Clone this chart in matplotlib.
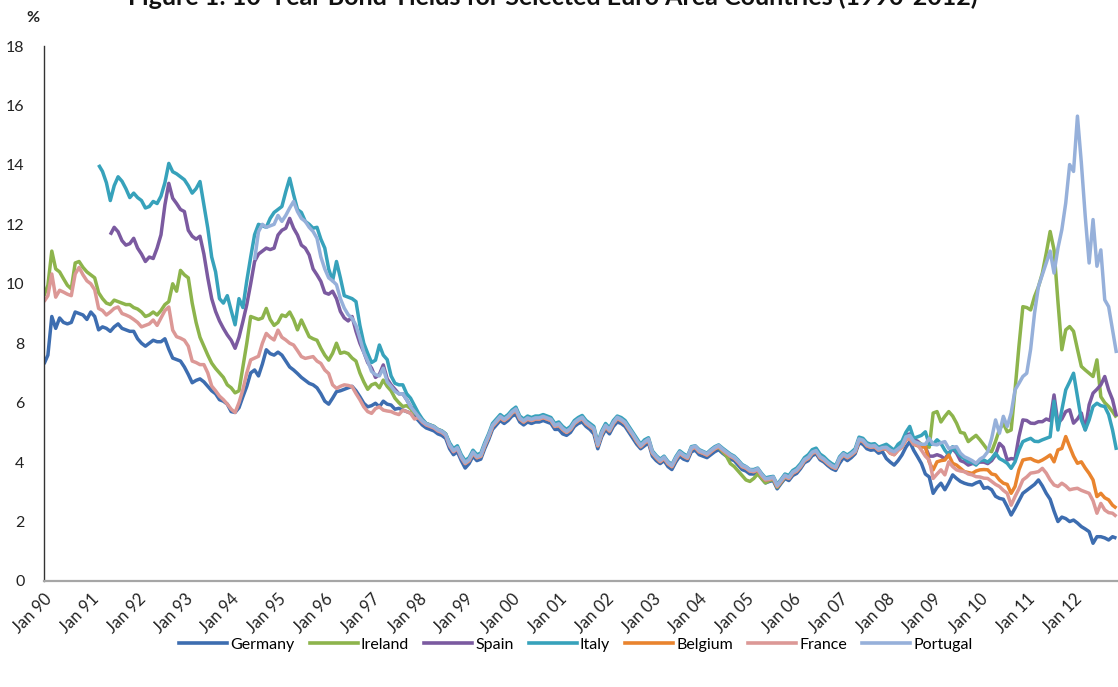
import numpy as np
import matplotlib
matplotlib.use("Agg")
import matplotlib.pyplot as plt
from matplotlib.lines import Line2D

nan = float("nan")

title = "Figure 1: 10-Year Bond Yields for Selected Euro Area Countries (1990-2012)"
tick_labels = ["Jan %02d" % (y % 100) for y in range(1990, 2013)]
countries = ["Germany", "Ireland", "Spain", "Italy", "Belgium", "France", "Portugal"]
colors = ["#3d6db0", "#8db44c", "#7b5aa0", "#37a2bb", "#e9842e", "#dc9896", "#96b0da"]

# monthly values, Jan 1990 .. Dec 2012 (one row per year)
germany = [
    7.3, 7.6, 8.9, 8.5, 8.85, 8.7, 8.65, 8.7, 9.05, 9.0, 8.95, 8.8,
    9.05, 8.9, 8.45, 8.55, 8.5, 8.4, 8.55, 8.65, 8.5, 8.45, 8.4, 8.4,
    8.15, 8.0, 7.9, 8.0, 8.1, 8.05, 8.05, 8.15, 7.8, 7.5, 7.45, 7.4,
    7.2, 6.95, 6.67, 6.75, 6.8, 6.7, 6.55, 6.4, 6.3, 6.1, 6.05, 5.95,
    5.7, 5.67, 5.83, 6.2, 6.55, 7.0, 7.1, 6.9, 7.3, 7.78, 7.65, 7.6,
    7.7, 7.6, 7.4, 7.2, 7.1, 6.98, 6.85, 6.75, 6.65, 6.6, 6.5, 6.3,
    6.05, 5.95, 6.15, 6.37, 6.4, 6.45, 6.5, 6.55, 6.4, 6.2, 5.98, 5.86,
    5.9, 5.98, 5.86, 6.05, 5.95, 5.92, 5.78, 5.81, 5.75, 5.7, 5.65, 5.55,
    5.4, 5.25, 5.15, 5.1, 5.05, 4.95, 4.9, 4.8, 4.45, 4.25, 4.35, 4.05,
    3.8, 3.95, 4.2, 4.05, 4.1, 4.45, 4.75, 5.1, 5.25, 5.4, 5.3, 5.4,
    5.55, 5.6, 5.35, 5.25, 5.35, 5.3, 5.35, 5.35, 5.4, 5.35, 5.3, 5.1,
    5.1, 4.95, 4.9, 5.0, 5.2, 5.3, 5.35, 5.2, 5.1, 4.95, 4.45, 4.85,
    5.1, 4.95, 5.2, 5.35, 5.3, 5.2, 5.0, 4.8, 4.6, 4.45, 4.55, 4.65,
    4.2, 4.05, 3.95, 4.05, 3.85, 3.75, 4.0, 4.2, 4.1, 4.05, 4.35, 4.4,
    4.25, 4.2, 4.15, 4.25, 4.35, 4.42, 4.3, 4.2, 4.1, 4.05, 3.9, 3.75,
    3.7, 3.6, 3.6, 3.65, 3.45, 3.3, 3.35, 3.38, 3.1, 3.28, 3.45, 3.38,
    3.55, 3.62, 3.78, 3.98, 4.05, 4.22, 4.28, 4.08, 4.0, 3.88, 3.78, 3.72,
    3.96, 4.15, 4.05, 4.15, 4.28, 4.65, 4.6, 4.45, 4.4, 4.42, 4.3, 4.35,
    4.12, 4.0, 3.9, 4.05, 4.24, 4.5, 4.69, 4.4, 4.18, 3.95, 3.6, 3.5,
    2.95, 3.15, 3.29, 3.07, 3.3, 3.57, 3.45, 3.35, 3.29, 3.25, 3.23, 3.3,
    3.35, 3.12, 3.15, 3.07, 2.85, 2.78, 2.75, 2.5, 2.22, 2.45, 2.7, 2.95,
    3.05, 3.15, 3.25, 3.4, 3.2, 2.95, 2.75, 2.35, 2.0, 2.15, 2.1, 2.0,
    2.05, 1.95, 1.83, 1.75, 1.66, 1.27, 1.49, 1.49, 1.45, 1.38, 1.49, 1.44,
]

ireland = [
    9.6, 9.95, 11.1, 10.5, 10.4, 10.17, 9.95, 9.83, 10.7, 10.75, 10.55, 10.4,
    10.3, 10.2, 9.7, 9.5, 9.35, 9.3, 9.45, 9.4, 9.35, 9.3, 9.3, 9.2,
    9.15, 9.05, 8.9, 8.95, 9.05, 8.95, 9.1, 9.3, 9.4, 10.0, 9.75, 10.45,
    10.3, 10.2, 9.35, 8.7, 8.2, 7.9, 7.6, 7.33, 7.15, 7.0, 6.85, 6.6,
    6.5, 6.33, 6.4, 7.2, 8.0, 8.9, 8.85, 8.8, 8.85, 9.17, 8.8, 8.6,
    8.7, 8.95, 8.9, 9.05, 8.8, 8.45, 8.78, 8.5, 8.22, 8.15, 8.1, 7.83,
    7.6, 7.43, 7.66, 8.0, 7.66, 7.7, 7.65, 7.5, 7.4, 7.0, 6.7, 6.45,
    6.6, 6.65, 6.5, 6.76, 6.55, 6.4, 6.15, 6.0, 5.87, 5.9, 5.8, 5.65,
    5.55, 5.4, 5.3, 5.25, 5.2, 5.1, 5.05, 4.95, 4.6, 4.4, 4.5, 4.2,
    3.95, 4.05, 4.3, 4.15, 4.2, 4.55, 4.85, 5.2, 5.35, 5.5, 5.4, 5.5,
    5.65, 5.75, 5.45, 5.35, 5.45, 5.4, 5.45, 5.45, 5.5, 5.45, 5.4, 5.2,
    5.25, 5.1, 5.0, 5.1, 5.3, 5.4, 5.47, 5.3, 5.2, 5.1, 4.55, 4.95,
    5.2, 5.05, 5.3, 5.47, 5.4, 5.3, 5.1, 4.91, 4.7, 4.52, 4.65, 4.74,
    4.3, 4.15, 4.02, 4.13, 3.95, 3.85, 4.1, 4.3, 4.2, 4.13, 4.45, 4.5,
    4.35, 4.3, 4.24, 4.35, 4.45, 4.5, 4.35, 4.2, 3.95, 3.85, 3.7, 3.55,
    3.4, 3.35, 3.45, 3.6, 3.45, 3.3, 3.38, 3.42, 3.15, 3.32, 3.5, 3.45,
    3.63, 3.7, 3.85, 4.05, 4.13, 4.3, 4.35, 4.15, 4.07, 3.95, 3.85, 3.79,
    4.1, 4.24, 4.15, 4.24, 4.35, 4.74, 4.7, 4.55, 4.5, 4.52, 4.4, 4.45,
    4.45, 4.35, 4.3, 4.5, 4.6, 4.85, 4.9, 4.75, 4.7, 4.6, 4.55, 4.5,
    5.65, 5.7, 5.35, 5.54, 5.7, 5.55, 5.31, 5.0, 4.97, 4.69, 4.8, 4.9,
    4.75, 4.58, 4.4, 4.35, 4.7, 5.1, 5.3, 5.02, 5.08, 6.43, 7.9, 9.23,
    9.2, 9.12, 9.57, 9.9, 10.36, 11.03, 11.76, 11.14, 9.4, 7.78, 8.45, 8.56,
    8.4, 7.8, 7.22, 7.1, 6.99, 6.88, 7.44, 6.2, 6.0, 5.87, 5.7, 5.5,
]

spain = [
    nan, nan, nan, nan, nan, nan, nan, nan, nan, nan, nan, nan,
    nan, nan, nan, nan, nan, 11.65, 11.9, 11.75, 11.45, 11.3, 11.35, 11.53,
    11.2, 11.0, 10.75, 10.9, 10.85, 11.2, 11.65, 12.65, 13.38, 12.88, 12.7, 12.5,
    12.43, 11.8, 11.6, 11.5, 11.6, 11.0, 10.2, 9.5, 9.07, 8.75, 8.5, 8.28,
    8.1, 7.83, 8.2, 8.73, 9.3, 10.0, 10.75, 11.0, 11.1, 11.2, 11.15, 11.2,
    11.64, 11.8, 11.87, 12.2, 11.87, 11.64, 11.3, 11.2, 10.97, 10.5, 10.3, 10.08,
    9.7, 9.65, 9.75, 9.5, 9.07, 8.85, 8.75, 8.9, 8.4, 8.0, 7.7, 7.35,
    7.16, 6.85, 6.95, 7.27, 6.8, 6.6, 6.45, 6.3, 6.3, 6.1, 5.87, 5.75,
    5.5, 5.35, 5.25, 5.2, 5.15, 5.05, 5.0, 4.9, 4.55, 4.35, 4.45, 4.15,
    3.95, 4.05, 4.3, 4.15, 4.2, 4.55, 4.85, 5.2, 5.35, 5.5, 5.4, 5.5,
    5.65, 5.75, 5.45, 5.35, 5.45, 5.4, 5.45, 5.45, 5.5, 5.45, 5.4, 5.2,
    5.25, 5.1, 5.0, 5.1, 5.3, 5.4, 5.47, 5.3, 5.2, 5.1, 4.55, 4.95,
    5.2, 5.05, 5.3, 5.47, 5.4, 5.3, 5.1, 4.91, 4.7, 4.52, 4.65, 4.74,
    4.3, 4.15, 4.02, 4.13, 3.95, 3.85, 4.1, 4.3, 4.2, 4.13, 4.45, 4.5,
    4.35, 4.3, 4.24, 4.35, 4.45, 4.52, 4.4, 4.3, 4.2, 4.13, 4.0, 3.85,
    3.8, 3.7, 3.68, 3.74, 3.55, 3.4, 3.42, 3.46, 3.18, 3.35, 3.52, 3.45,
    3.63, 3.7, 3.85, 4.05, 4.13, 4.3, 4.35, 4.15, 4.07, 3.95, 3.85, 3.79,
    4.1, 4.24, 4.15, 4.24, 4.35, 4.74, 4.7, 4.55, 4.5, 4.52, 4.4, 4.45,
    4.45, 4.35, 4.3, 4.45, 4.55, 4.9, 4.95, 4.75, 4.7, 4.55, 4.5, 4.2,
    4.2, 4.25, 4.2, 4.1, 4.3, 4.45, 4.3, 4.05, 4.0, 3.9, 3.95, 3.95,
    4.0, 4.0, 3.95, 4.05, 4.24, 4.63, 4.5, 4.07, 4.12, 4.1, 4.86, 5.42,
    5.4, 5.31, 5.3, 5.36, 5.36, 5.45, 5.4, 6.26, 5.31, 5.45, 5.7, 5.76,
    5.31, 5.45, 5.65, 5.09, 5.93, 6.32, 6.45, 6.6, 6.88, 6.43, 6.1, 5.54,
]

italy = [
    nan, nan, nan, nan, nan, nan, nan, nan, nan, nan, nan, nan,
    nan, nan, 14.0, 13.78, 13.4, 12.8, 13.3, 13.6, 13.45, 13.2, 12.9, 13.05,
    12.9, 12.8, 12.55, 12.6, 12.77, 12.7, 12.95, 13.4, 14.05, 13.77, 13.7, 13.6,
    13.5, 13.3, 13.05, 13.2, 13.44, 12.65, 11.87, 10.9, 10.4, 9.5, 9.35, 9.6,
    9.1, 8.62, 9.5, 9.2, 10.1, 10.9, 11.65, 12.0, 11.95, 11.9, 12.2, 12.4,
    12.5, 12.6, 13.1, 13.55, 13.0, 12.5, 12.4, 12.1, 12.0, 11.87, 11.9, 11.5,
    11.2, 10.5, 10.1, 10.75, 10.2, 9.6, 9.55, 9.5, 9.4, 8.6, 8.0, 7.66,
    7.35, 7.43, 7.94, 7.6, 7.45, 6.9, 6.65, 6.6, 6.6, 6.3, 6.15, 5.9,
    5.65, 5.45, 5.3, 5.25, 5.2, 5.1, 5.05, 4.95, 4.65, 4.45, 4.55, 4.25,
    4.05, 4.15, 4.4, 4.25, 4.3, 4.65, 4.95, 5.3, 5.45, 5.6, 5.5, 5.6,
    5.75, 5.85, 5.55, 5.45, 5.55, 5.5, 5.55, 5.55, 5.6, 5.55, 5.5, 5.3,
    5.35, 5.2, 5.1, 5.2, 5.4, 5.5, 5.57, 5.4, 5.3, 5.2, 4.65, 5.05,
    5.3, 5.15, 5.4, 5.55, 5.5, 5.4, 5.2, 5.0, 4.8, 4.6, 4.75, 4.82,
    4.38, 4.22, 4.1, 4.2, 4.02, 3.92, 4.18, 4.38, 4.28, 4.2, 4.52, 4.55,
    4.42, 4.36, 4.3, 4.42, 4.52, 4.58, 4.47, 4.37, 4.27, 4.2, 4.07, 3.92,
    3.85, 3.75, 3.75, 3.8, 3.62, 3.47, 3.5, 3.52, 3.25, 3.42, 3.6, 3.55,
    3.72, 3.8, 3.95, 4.15, 4.25, 4.42, 4.47, 4.27, 4.18, 4.05, 3.95, 3.88,
    4.18, 4.32, 4.24, 4.33, 4.45, 4.84, 4.8, 4.65, 4.6, 4.62, 4.5, 4.55,
    4.6, 4.5, 4.4, 4.6, 4.7, 5.0, 5.2, 4.8, 4.85, 4.9, 5.02, 4.6,
    4.6, 4.75, 4.63, 4.4, 4.24, 4.52, 4.35, 4.2, 4.12, 4.01, 4.0, 3.9,
    4.05, 4.07, 4.0, 4.12, 4.3, 4.12, 4.05, 3.96, 3.79, 4.01, 4.4, 4.69,
    4.75, 4.8, 4.7, 4.69, 4.75, 4.8, 4.85, 6.05, 5.08, 5.76, 6.43, 6.7,
    6.99, 6.2, 5.42, 5.08, 5.42, 5.87, 5.98, 5.9, 5.87, 5.6, 5.08, 4.41,
]

belgium = [nan] * 108 + [
    3.95, 4.05, 4.3, 4.15, 4.2, 4.55, 4.85, 5.2, 5.35, 5.5, 5.4, 5.5,
    5.65, 5.75, 5.45, 5.35, 5.45, 5.4, 5.45, 5.45, 5.5, 5.45, 5.4, 5.2,
    5.25, 5.1, 5.0, 5.1, 5.3, 5.4, 5.47, 5.3, 5.2, 5.1, 4.55, 4.95,
    5.2, 5.05, 5.3, 5.47, 5.4, 5.3, 5.1, 4.91, 4.7, 4.52, 4.65, 4.74,
    4.3, 4.15, 4.02, 4.13, 3.95, 3.85, 4.1, 4.3, 4.2, 4.13, 4.45, 4.5,
    4.35, 4.3, 4.24, 4.35, 4.45, 4.52, 4.4, 4.3, 4.2, 4.13, 4.0, 3.85,
    3.8, 3.7, 3.68, 3.74, 3.55, 3.4, 3.42, 3.46, 3.18, 3.35, 3.52, 3.45,
    3.63, 3.7, 3.85, 4.05, 4.13, 4.3, 4.35, 4.15, 4.07, 3.95, 3.85, 3.79,
    4.1, 4.24, 4.15, 4.24, 4.35, 4.74, 4.7, 4.55, 4.5, 4.52, 4.4, 4.45,
    4.45, 4.3, 4.25, 4.4, 4.5, 4.75, 4.8, 4.6, 4.55, 4.5, 4.52, 4.0,
    3.74, 4.01, 4.05, 4.07, 4.24, 3.96, 3.9, 3.79, 3.68, 3.65, 3.62, 3.7,
    3.74, 3.75, 3.74, 3.6, 3.57, 3.4, 3.29, 3.25, 2.95, 3.18, 3.74, 4.07,
    4.1, 4.12, 4.05, 4.01, 4.07, 4.15, 4.24, 4.01, 4.41, 4.46, 4.86, 4.52,
    4.2, 3.96, 4.01, 3.8, 3.62, 3.4, 2.84, 2.95, 2.8, 2.73, 2.55, 2.45,
]

france = [
    9.4, 9.6, 10.33, 9.55, 9.78, 9.72, 9.65, 9.6, 10.33, 10.55, 10.3, 10.1,
    10.0, 9.8, 9.17, 9.1, 8.95, 9.05, 9.17, 9.22, 9.0, 8.95, 8.89, 8.8,
    8.7, 8.55, 8.6, 8.65, 8.78, 8.6, 8.85, 9.1, 9.22, 8.44, 8.22, 8.17,
    8.1, 7.9, 7.4, 7.35, 7.28, 7.28, 7.0, 6.56, 6.4, 6.22, 6.1, 5.95,
    5.78, 5.67, 6.0, 6.44, 7.0, 7.44, 7.5, 7.56, 8.0, 8.33, 8.2, 8.11,
    8.44, 8.2, 8.11, 8.0, 7.94, 7.75, 7.55, 7.49, 7.52, 7.55, 7.4, 7.32,
    7.1, 6.98, 6.6, 6.48, 6.55, 6.6, 6.58, 6.54, 6.31, 6.1, 5.86, 5.7,
    5.64, 5.8, 5.86, 5.75, 5.72, 5.7, 5.64, 5.6, 5.75, 5.7, 5.64, 5.45,
    5.5, 5.35, 5.25, 5.2, 5.15, 5.05, 5.0, 4.9, 4.55, 4.35, 4.45, 4.15,
    3.95, 4.05, 4.3, 4.15, 4.2, 4.55, 4.85, 5.2, 5.35, 5.5, 5.4, 5.5,
    5.65, 5.75, 5.45, 5.35, 5.45, 5.4, 5.45, 5.45, 5.5, 5.45, 5.4, 5.2,
    5.25, 5.1, 5.0, 5.1, 5.3, 5.4, 5.47, 5.3, 5.2, 5.1, 4.55, 4.95,
    5.2, 5.05, 5.3, 5.47, 5.4, 5.3, 5.1, 4.91, 4.7, 4.52, 4.65, 4.74,
    4.3, 4.15, 4.02, 4.13, 3.95, 3.85, 4.1, 4.3, 4.2, 4.13, 4.45, 4.5,
    4.35, 4.3, 4.24, 4.35, 4.45, 4.52, 4.4, 4.3, 4.2, 4.13, 4.0, 3.85,
    3.8, 3.7, 3.68, 3.74, 3.55, 3.4, 3.42, 3.46, 3.18, 3.35, 3.52, 3.45,
    3.63, 3.7, 3.85, 4.05, 4.13, 4.3, 4.35, 4.15, 4.07, 3.95, 3.85, 3.79,
    4.1, 4.24, 4.15, 4.24, 4.35, 4.74, 4.7, 4.55, 4.5, 4.52, 4.4, 4.45,
    4.45, 4.3, 4.25, 4.4, 4.5, 4.75, 4.8, 4.6, 4.58, 4.4, 4.2, 4.07,
    3.45, 3.6, 3.74, 3.57, 4.01, 3.85, 3.74, 3.7, 3.68, 3.6, 3.57, 3.51,
    3.5, 3.46, 3.45, 3.35, 3.25, 3.18, 3.05, 2.95, 2.55, 2.84, 3.1, 3.4,
    3.5, 3.63, 3.65, 3.68, 3.79, 3.63, 3.4, 3.23, 3.18, 3.29, 3.2, 3.07,
    3.1, 3.12, 3.05, 3.0, 2.95, 2.7, 2.28, 2.61, 2.39, 2.3, 2.28, 2.17,
]

portugal = [nan] * 54 + [
    10.8, 11.75, 12.0, 11.9, 11.95, 12.0,
    12.3, 12.1, 12.3, 12.55, 12.77, 12.43, 12.2, 12.1, 11.9, 11.76, 11.53, 10.9,
    10.5, 10.2, 10.1, 9.97, 9.5, 9.18, 8.96, 8.84, 8.6, 8.17, 7.7, 7.4,
    7.05, 6.94, 6.9, 7.16, 6.7, 6.55, 6.38, 6.3, 6.3, 6.1, 5.87, 5.7,
    5.54, 5.39, 5.29, 5.24, 5.19, 5.09, 5.04, 4.94, 4.59, 4.39, 4.49, 4.19,
    3.99, 4.09, 4.34, 4.19, 4.24, 4.59, 4.89, 5.24, 5.39, 5.54, 5.44, 5.54,
    5.69, 5.79, 5.49, 5.39, 5.49, 5.44, 5.49, 5.49, 5.54, 5.49, 5.44, 5.24,
    5.29, 5.14, 5.04, 5.14, 5.34, 5.44, 5.51, 5.34, 5.24, 5.14, 4.59, 4.99,
    5.24, 5.09, 5.34, 5.51, 5.44, 5.34, 5.14, 4.95, 4.74, 4.56, 4.69, 4.78,
    4.34, 4.19, 4.06, 4.17, 3.99, 3.89, 4.14, 4.34, 4.24, 4.17, 4.49, 4.54,
    4.39, 4.34, 4.28, 4.39, 4.49, 4.56, 4.44, 4.34, 4.24, 4.17, 4.04, 3.89,
    3.84, 3.74, 3.72, 3.78, 3.59, 3.44, 3.46, 3.5, 3.22, 3.39, 3.56, 3.49,
    3.67, 3.74, 3.89, 4.09, 4.17, 4.34, 4.39, 4.19, 4.11, 3.99, 3.89, 3.83,
    4.14, 4.28, 4.19, 4.28, 4.39, 4.78, 4.74, 4.59, 4.54, 4.56, 4.44, 4.49,
    4.5, 4.4, 4.35, 4.45, 4.55, 4.85, 4.9, 4.7, 4.65, 4.6, 4.6, 4.8,
    4.6, 4.58, 4.65, 4.69, 4.46, 4.5, 4.52, 4.3, 4.18, 4.12, 4.05, 3.96,
    4.1, 4.18, 4.35, 4.8, 5.42, 4.97, 5.54, 5.2, 5.65, 6.43, 6.65, 6.88,
    6.99, 7.8, 9.01, 9.91, 10.3, 10.7, 11.1, 10.36, 11.2, 11.82, 12.72, 14.01,
    13.78, 15.64, 14.07, 12.27, 10.7, 12.16, 10.59, 11.14, 9.46, 9.23, 8.45, 7.67,
]

series = [germany, ireland, spain, italy, belgium, france, portugal]
y_ticks = list(range(0, 19, 2))

plt.rcParams["font.family"] = ["Lato", "DejaVu Sans"]

fig = plt.figure(figsize=(11.18, 6.87), dpi=100)
ax = fig.add_axes([44 / 1118, 1 - 581 / 687, 1 - 44 / 1118, (581 - 46) / 687])

months = np.arange(len(germany))
for vals, name, col in zip(series, countries, colors):
    ax.plot(months, np.array(vals, dtype=float), color=col, lw=2.5,
            label=name, solid_joinstyle="round", solid_capstyle="butt")

ax.set_ylim(0, 18)
ax.set_xlim(0, 275.4)
ax.set_yticks(y_ticks)
ax.set_yticklabels([str(v) for v in y_ticks], fontsize=11.5, color="#222222")
ax.set_xticks(np.arange(len(tick_labels)) * 12)
ax.set_xticklabels(tick_labels, rotation=45, ha="right", va="top",
                   rotation_mode="anchor", fontsize=12, color="#222222")
ax.tick_params(axis="y", length=0, pad=14)
ax.tick_params(axis="x", length=0, pad=7)

for s in ["top", "right"]:
    ax.spines[s].set_visible(False)
ax.spines["left"].set_color("#333333")
ax.spines["left"].set_linewidth(1.0)
ax.spines["bottom"].set_color("#a6a6a6")
ax.spines["bottom"].set_linewidth(1.6)

fig.text(33 / 1118, 1 - 18 / 687, "%", fontsize=11.5, fontweight="bold",
         ha="center", va="center", color="#222222")
fig.text(553 / 1118, 1 - 5 / 687, title, fontsize=18, fontweight="bold",
         ha="center", va="baseline", color="#111111")

handles = [Line2D([0], [0], color=c, lw=2.6) for c in colors]
fig.legend(handles, countries, loc="center", bbox_to_anchor=(576 / 1118, 1 - 645 / 687),
           ncol=7, frameon=False, fontsize=11.5, handlelength=3.0,
           handletextpad=0.2, columnspacing=0.95)

fig.savefig("out.png", dpi=100)
